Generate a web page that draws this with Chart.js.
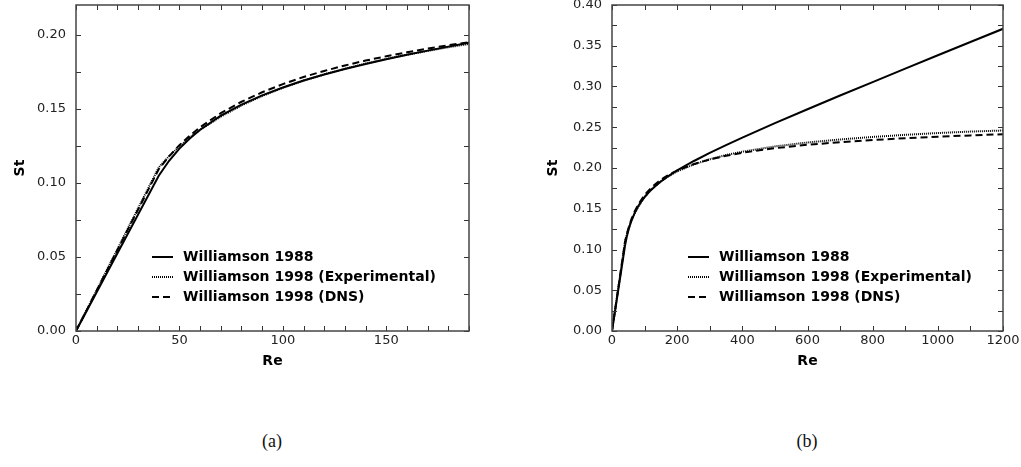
<!DOCTYPE html>
<html>
<head>
<meta charset="utf-8">
<script src="https://cdn.jsdelivr.net/npm/chart.js@4/dist/chart.umd.min.js"></script>
<style>
html,body{margin:0;padding:0;background:#fff;width:1021px;height:467px;overflow:hidden;}
.box{position:absolute;top:0;height:380px;}
#wa{left:0;width:510px;}
#wb{left:510px;width:511px;}
.cap{position:absolute;top:431px;line-height:20px;font-family:"Liberation Serif",serif;font-size:18px;color:#111;transform:translateX(-50%);}
</style>
</head>
<body>
<div class="box" id="wa"><canvas id="ca" width="510" height="380"></canvas></div>
<div class="box" id="wb"><canvas id="cb" width="511" height="380"></canvas></div>
<div class="cap" style="left:272px">(a)</div>
<div class="cap" style="left:807px">(b)</div>
<script>
// ---- data ----
const reValues   = [0, 40, 45, 50, 55, 60, 70, 80, 90, 100, 110, 120, 130, 140, 150, 160, 170, 180, 190, 200, 250, 300, 350, 400, 500, 600, 700, 800, 900, 1000, 1100, 1200];
const st1988     = [0, 0.1048, 0.1149, 0.1231, 0.1299, 0.1358, 0.1453, 0.1528, 0.1590, 0.1643, 0.1690, 0.1731, 0.1768, 0.1802, 0.1834, 0.1864, 0.1892, 0.1919, 0.1945, 0.1970, 0.2083, 0.2185, 0.2281, 0.2373, 0.2550, 0.2721, 0.2889, 0.3054, 0.3219, 0.3383, 0.3546, 0.3708];
const st1998Exp  = [0, 0.1104, 0.1180, 0.1246, 0.1305, 0.1357, 0.1447, 0.1522, 0.1586, 0.1641, 0.1689, 0.1732, 0.1770, 0.1805, 0.1836, 0.1864, 0.1890, 0.1915, 0.1937, 0.1958, 0.2043, 0.2108, 0.2159, 0.2200, 0.2265, 0.2313, 0.2350, 0.2381, 0.2407, 0.2429, 0.2447, 0.2460];
const st1998Dns  = [0, 0.1092, 0.1179, 0.1254, 0.1318, 0.1375, 0.1470, 0.1547, 0.1611, 0.1666, 0.1714, 0.1755, 0.1792, 0.1825, 0.1854, 0.1881, 0.1906, 0.1928, 0.1949, 0.1968, 0.2046, 0.2105, 0.2150, 0.2187, 0.2243, 0.2285, 0.2317, 0.2343, 0.2365, 0.2384, 0.2400, 0.2414];
const seriesLabels = ['Williamson 1988', 'Williamson 1998 (Experimental)', 'Williamson 1998 (DNS)'];

const leftXTicks  = [0, 50, 100, 150];
const leftYTicks  = [0, 0.05, 0.10, 0.15, 0.20];
const rightXTicks = [0, 200, 400, 600, 800, 1000, 1200];
const rightYTicks = [0, 0.05, 0.10, 0.15, 0.20, 0.25, 0.30, 0.35, 0.40];

// ---- styling ----
const legendRowsY = [257, 277, 297];
const tickFont  = {family: 'DejaVu Sans', size: 13};
const titleFont = {family: 'DejaVu Sans', size: 14, weight: 'bold'};

function pts(ys) { return reValues.map((x, i) => ({x: x, y: ys[i]})); }

function makeDatasets() {
  return [
    {label: seriesLabels[0], data: pts(st1988),    borderColor: '#000', borderWidth: 2, borderDash: [],     pointRadius: 0, tension: 0, fill: false},
    {label: seriesLabels[1], data: pts(st1998Exp), borderColor: '#000', borderWidth: 2, borderDash: [1, 1], pointRadius: 0, tension: 0, fill: false},
    {label: seriesLabels[2], data: pts(st1998Dns), borderColor: '#000', borderWidth: 2, borderDash: [7, 4], pointRadius: 0, tension: 0, fill: false}
  ];
}

function framePlugin(xStep, yStep) {
  return {
    id: 'frameTicks',
    afterDatasetsDraw(chart) {
      const ctx = chart.ctx, a = chart.chartArea, x = chart.scales.x, y = chart.scales.y;
      ctx.save();
      ctx.strokeStyle = '#333';
      ctx.lineWidth = 1;
      ctx.beginPath();
      const nx = Math.round((x.max - x.min) / xStep);
      for (let i = 0; i <= nx; i++) {
        const px = Math.round(x.getPixelForValue(x.min + i * xStep)) + 0.5;
        ctx.moveTo(px, a.bottom); ctx.lineTo(px, a.bottom - 5);
        ctx.moveTo(px, a.top);    ctx.lineTo(px, a.top + 5);
      }
      const ny = Math.round((y.max - y.min) / yStep);
      for (let i = 0; i <= ny; i++) {
        const py = Math.round(y.getPixelForValue(y.min + i * yStep)) + 0.5;
        ctx.moveTo(a.left, py);  ctx.lineTo(a.left + 5, py);
        ctx.moveTo(a.right, py); ctx.lineTo(a.right - 5, py);
      }
      ctx.stroke();
      ctx.lineWidth = 1.5;
      ctx.strokeStyle = '#444';
      ctx.strokeRect(a.left, a.top, a.right - a.left, a.bottom - a.top);
      ctx.restore();
    }
  };
}

const legendPlugin = {
  id: 'inLegend',
  afterDatasetsDraw(chart) {
    const ctx = chart.ctx, a = chart.chartArea;
    chart.data.datasets.forEach((ds, i) => {
      const yy = legendRowsY[i];
      ctx.save();
      ctx.strokeStyle = ds.borderColor;
      ctx.lineWidth = ds.borderWidth;
      ctx.setLineDash(ds.borderDash || []);
      ctx.beginPath();
      ctx.moveTo(a.left + 76, yy);
      ctx.lineTo(a.left + 97, yy);
      ctx.stroke();
      ctx.setLineDash([]);
      ctx.fillStyle = '#000';
      ctx.font = 'bold 14px "DejaVu Sans"';
      ctx.textBaseline = 'middle';
      ctx.textAlign = 'left';
      ctx.fillText(ds.label, a.left + 107, yy);
      ctx.restore();
    });
  }
};

function makeChart(id, cfg) {
  return new Chart(document.getElementById(id), {
    type: 'line',
    data: {datasets: makeDatasets()},
    options: {
      responsive: false,
      animation: false,
      devicePixelRatio: 1,
      layout: {padding: {top: 5, right: cfg.padRight, left: 0, bottom: 0}},
      plugins: {legend: {display: false}, tooltip: {enabled: false}},
      scales: {
        x: {
          type: 'linear', min: 0, max: cfg.xMax,
          afterBuildTicks: s => { s.ticks = cfg.xTicks.map(v => ({value: v})); },
          afterFit: s => { s.height = 49; s.paddingLeft = 0; s.paddingRight = 0; },
          grid: {display: false, drawTicks: false},
          border: {display: false},
          ticks: {padding: 2, color: '#222', font: tickFont, maxRotation: 0, autoSkip: false, callback: v => String(v)},
          title: {display: true, text: 'Re', color: '#000', font: titleFont, padding: {top: 0, bottom: 10}}
        },
        y: {
          type: 'linear', min: 0, max: cfg.yMax,
          afterBuildTicks: s => { s.ticks = cfg.yTicks.map(v => ({value: v})); },
          afterFit: s => { s.width = cfg.yWidth; s.paddingTop = 0; s.paddingBottom = 0; },
          grid: {display: false, drawTicks: false},
          border: {display: false},
          ticks: {padding: 10, color: '#222', font: tickFont, autoSkip: false, callback: v => Number(v).toFixed(2)},
          title: {display: true, text: 'St', color: '#000', font: titleFont, padding: {top: cfg.titlePad, bottom: 0}}
        }
      }
    },
    plugins: [framePlugin(cfg.xMinor, 0.025), legendPlugin]
  });
}

Chart.defaults.font.family = 'DejaVu Sans';

makeChart('ca', {xMax: 190, yMax: 0.22, xTicks: leftXTicks, yTicks: leftYTicks, xMinor: 10, yWidth: 76, padRight: 41, titlePad: 12});
makeChart('cb', {xMax: 1200, yMax: 0.40, xTicks: rightXTicks, yTicks: rightYTicks, xMinor: 100, yWidth: 102, padRight: 18, titlePad: 35});
</script>
</body>
</html>
